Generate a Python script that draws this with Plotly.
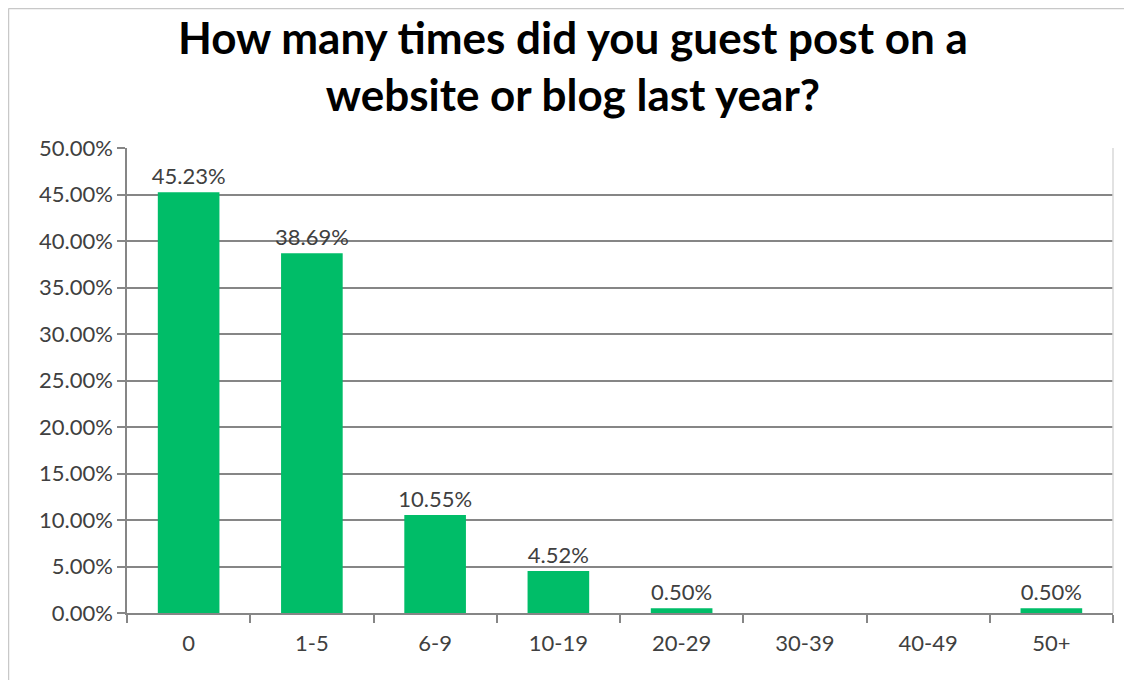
import plotly.graph_objects as go

# categories and shares
categorias = ["0", "1-5", "6-9", "10-19", "20-29", "30-39", "40-49", "50+"]
porcentajes = [0.4523, 0.3869, 0.1055, 0.0452, 0.0050, 0.0, 0.0, 0.0050]
etiquetas = [f"{v:.2%}" if v > 0 else "" for v in porcentajes]

FUENTE = "Lato, 'Open Sans', sans-serif"
VERDE = "#00BD68"
GRIS = "#868686"

# the page body adds an 8px offset, margins compensate for it
fig = go.Figure(
    go.Bar(
        x=categorias,
        y=porcentajes,
        text=etiquetas,
        textposition="outside",
        constraintext="none",
        textfont=dict(family=FUENTE, size=22, color="#404040"),
        cliponaxis=False,
        marker=dict(color=VERDE, line=dict(width=0)),
        width=0.5,
    )
)

fig.update_layout(
    width=1132,
    height=680,
    margin=dict(l=119, r=27, t=140, b=75, autoexpand=False),
    paper_bgcolor="white",
    plot_bgcolor="white",
    showlegend=False,
    font=dict(family=FUENTE, color="#404040"),
)

# two-line title as an annotation so its position can be set exactly
fig.add_annotation(
    text="<b>How many times did you guest post on a<br>website or blog last year?</b>",
    xref="paper", yref="paper",
    x=0.4523, y=1.2990,
    xanchor="center", yanchor="top",
    showarrow=False,
    font=dict(family=FUENTE, size=44, color="#000000"),
)

fig.update_yaxes(
    range=[0, 0.5],
    dtick=0.05,
    tickformat=".2%",
    automargin=False,
    showgrid=True,
    gridcolor=GRIS,
    gridwidth=1.5,
    showline=True,
    linecolor=GRIS,
    linewidth=1.5,
    ticks="outside",
    ticklen=8,
    tickcolor=GRIS,
    tickwidth=1.5,
    tickfont=dict(family=FUENTE, size=22, color="#404040"),
    zeroline=False,
)

fig.update_xaxes(
    type="category",
    automargin=False,
    showline=True,
    linecolor=GRIS,
    linewidth=1.5,
    ticks="outside",
    tickson="boundaries",
    ticklen=8,
    tickcolor=GRIS,
    tickwidth=1.5,
    ticklabelstandoff=10,
    tickfont=dict(family=FUENTE, size=22, color="#404040"),
    showgrid=False,
)

# right plot-area edge and outer chart frame
fig.add_shape(type="line", xref="paper", yref="paper", x0=1, x1=1, y0=0, y1=1,
              line=dict(color="#d9d9d9", width=1.5))
fig.add_shape(type="line", xref="paper", yref="paper", x0=-0.1202, x1=-0.1202, y0=-0.2, y1=1.30,
              line=dict(color="#c8c8c8", width=1.5))
fig.add_shape(type="line", xref="paper", yref="paper", x0=-0.1202, x1=1.05, y0=1.30, y1=1.30,
              line=dict(color="#c8c8c8", width=1.5))

fig.write_html("out.html")
